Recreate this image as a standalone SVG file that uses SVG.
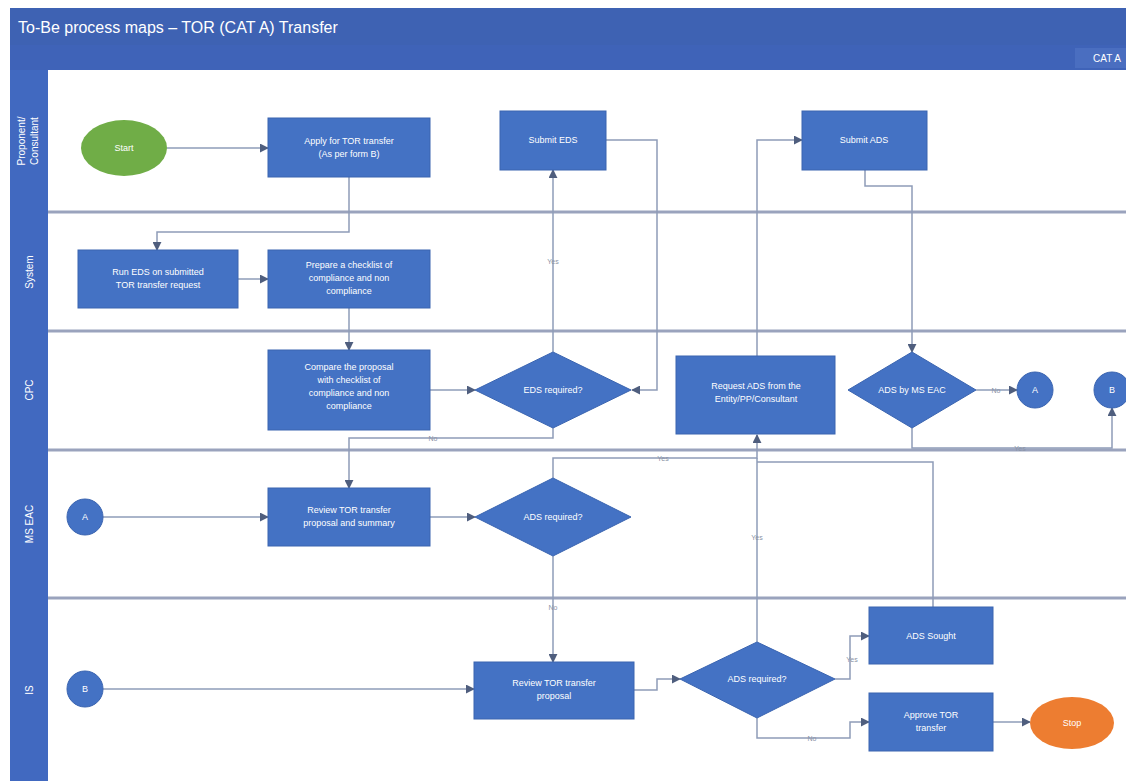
<svg xmlns="http://www.w3.org/2000/svg" width="1126" height="781" viewBox="0 0 1126 781">
  <style>
    .title { font-family: "Liberation Sans", "Open Sans", sans-serif; font-size: 16px; fill: #ffffff; }
    .lane-label { font-family: "Liberation Sans", "Open Sans", sans-serif; font-size: 10px; fill: #ffffff; text-anchor: middle; }
    .box { fill: #4472C4; stroke: #3A64B0; stroke-width: 1; }
    .term-start { fill: #70AD47; }
    .term-stop { fill: #ED7D31; }
    .ref { fill: #4472C4; stroke: #3A64B0; stroke-width: 1; }
    .node-text { font-family: "Liberation Sans", "Open Sans", sans-serif; font-size: 9px; fill: #ffffff; text-anchor: middle; }
    .sep { stroke: #9AA3BD; stroke-width: 3; }
    .conn { fill: none; stroke: #8E9CB8; stroke-width: 1.5; }
    .conn-label { font-family: "Liberation Sans", "Open Sans", sans-serif; font-size: 7px; fill: #8A93A6; text-anchor: middle; }
  </style>
  <defs>
    <marker id="arrow" viewBox="0 0 10 10" refX="9" refY="5" markerWidth="6" markerHeight="6" orient="auto-start-reverse">
      <path d="M0,0 L10,5 L0,10 z" fill="#4F5E7E"/>
    </marker>
  </defs>

  <rect x="0" y="0" width="1126" height="781" fill="#ffffff"/>

  <!-- header band and swimlane frame -->
  <g id="header">
    <rect x="10" y="8" width="1116" height="62" fill="#3E62B3"/>
    <rect x="10" y="45" width="1116" height="25" fill="#3F63B8"/>
    <text class="title" x="18" y="33">To-Be process maps – TOR (CAT A) Transfer</text>
    <rect x="1075" y="48" width="51" height="20" fill="#4A6EC0"/>
    <text class="lane-label" x="1093" y="62" text-anchor="start" style="text-anchor:start">CAT A</text>
  </g>

  <g id="lanes">
    <rect x="10" y="70" width="38" height="711" fill="#4169C0"/>
    <rect x="48" y="70" width="1078" height="711" fill="#ffffff"/>
    <line class="sep" x1="48" y1="212" x2="1126" y2="212"/>
    <line class="sep" x1="48" y1="331" x2="1126" y2="331"/>
    <line class="sep" x1="48" y1="450" x2="1126" y2="450"/>
    <line class="sep" x1="48" y1="598" x2="1126" y2="598"/>
    <text class="lane-label" transform="translate(25,141) rotate(-90)">Proponent/</text>
    <text class="lane-label" transform="translate(38,141) rotate(-90)">Consultant</text>
    <text class="lane-label" transform="translate(33,272) rotate(-90)">System</text>
    <text class="lane-label" transform="translate(33,390) rotate(-90)">CPC</text>
    <text class="lane-label" transform="translate(33,524) rotate(-90)">MS EAC</text>
    <text class="lane-label" transform="translate(33,690) rotate(-90)">IS</text>
  </g>

  <!-- connectors -->
  <g id="connectors">
    <path class="conn" d="M167,148 H268" marker-end="url(#arrow)"/>
    <path class="conn" d="M349,177 V232 H157 V250" marker-end="url(#arrow)"/>
    <path class="conn" d="M238,279 H268" marker-end="url(#arrow)"/>
    <path class="conn" d="M349,308 V350" marker-end="url(#arrow)"/>
    <path class="conn" d="M430,390 H475" marker-end="url(#arrow)"/>
    <path class="conn" d="M553,352 V170" marker-end="url(#arrow)"/>
    <path class="conn" d="M606,140 H657 V390 H632" marker-end="url(#arrow)"/>
    <path class="conn" d="M553,428 V438 H349 V488" marker-end="url(#arrow)"/>
    <path class="conn" d="M103,517 H268" marker-end="url(#arrow)"/>
    <path class="conn" d="M430,517 H475" marker-end="url(#arrow)"/>
    <path class="conn" d="M553,556 V662" marker-end="url(#arrow)"/>
    <path class="conn" d="M553,478 V458 H757 V435" marker-end="url(#arrow)"/>
    <path class="conn" d="M757,642 V458"/>
    <path class="conn" d="M933,607 V462 H757"/>
    <path class="conn" d="M757,356 V140 H802" marker-end="url(#arrow)"/>
    <path class="conn" d="M865,170 V186 H912 V352" marker-end="url(#arrow)"/>
    <path class="conn" d="M976,390 H1017" marker-end="url(#arrow)"/>
    <path class="conn" d="M912,428 V448 H1112 V408" marker-end="url(#arrow)"/>
    <path class="conn" d="M103,689 H474" marker-end="url(#arrow)"/>
    <path class="conn" d="M634,690 H657 V679 H680" marker-end="url(#arrow)"/>
    <path class="conn" d="M835,679 H850 V636 H869" marker-end="url(#arrow)"/>
    <path class="conn" d="M757,718 V738 H850 V722 H869" marker-end="url(#arrow)"/>
    <path class="conn" d="M993,722 H1030" marker-end="url(#arrow)"/>

    <text class="conn-label" x="553" y="264">Yes</text>
    <text class="conn-label" x="433" y="441">No</text>
    <text class="conn-label" x="663" y="461">Yes</text>
    <text class="conn-label" x="553" y="610">No</text>
    <text class="conn-label" x="757" y="540">Yes</text>
    <text class="conn-label" x="996" y="393">No</text>
    <text class="conn-label" x="1020" y="451">Yes</text>
    <text class="conn-label" x="852" y="662">Yes</text>
    <text class="conn-label" x="812" y="741">No</text>
  </g>

  <!-- Proponent / Consultant lane -->
  <g id="start">
    <ellipse class="term-start" cx="124" cy="148" rx="43" ry="28"/>
    <text class="node-text" x="124" y="151">Start</text>
  </g>
  <g id="apply-tor">
    <rect class="box" x="268" y="118" width="162" height="59"/>
    <text class="node-text" x="349" y="144">Apply for TOR transfer</text>
    <text class="node-text" x="349" y="157">(As per form B)</text>
  </g>
  <g id="submit-eds">
    <rect class="box" x="500" y="111" width="106" height="59"/>
    <text class="node-text" x="553" y="143">Submit EDS</text>
  </g>
  <g id="submit-ads">
    <rect class="box" x="802" y="111" width="125" height="59"/>
    <text class="node-text" x="864" y="143">Submit ADS</text>
  </g>

  <!-- System lane -->
  <g id="run-eds">
    <rect class="box" x="78" y="250" width="160" height="58"/>
    <text class="node-text" x="158" y="275">Run EDS on submitted</text>
    <text class="node-text" x="158" y="288">TOR transfer request</text>
  </g>
  <g id="prepare-checklist">
    <rect class="box" x="268" y="250" width="162" height="58"/>
    <text class="node-text" x="349" y="268">Prepare a checklist of</text>
    <text class="node-text" x="349" y="281">compliance and non</text>
    <text class="node-text" x="349" y="294">compliance</text>
  </g>

  <!-- CPC lane -->
  <g id="compare-proposal">
    <rect class="box" x="268" y="350" width="162" height="80"/>
    <text class="node-text" x="349" y="370">Compare the proposal</text>
    <text class="node-text" x="349" y="383">with checklist of</text>
    <text class="node-text" x="349" y="396">compliance and non</text>
    <text class="node-text" x="349" y="409">compliance</text>
  </g>
  <g id="eds-required">
    <polygon class="box" points="553,352 631,390 553,428 475,390"/>
    <text class="node-text" x="553" y="393">EDS required?</text>
  </g>
  <g id="request-ads">
    <rect class="box" x="676" y="356" width="159" height="78"/>
    <text class="node-text" x="756" y="389">Request ADS from the</text>
    <text class="node-text" x="756" y="402">Entity/PP/Consultant</text>
  </g>
  <g id="ads-by-ms-eac">
    <polygon class="box" points="912,352 976,390 912,428 848,390"/>
    <text class="node-text" x="912" y="393">ADS by MS EAC</text>
  </g>
  <g id="ref-a-out">
    <circle class="ref" cx="1035" cy="390" r="18"/>
    <text class="node-text" x="1035" y="393">A</text>
  </g>
  <g id="ref-b-out">
    <circle class="ref" cx="1112" cy="390" r="18"/>
    <text class="node-text" x="1112" y="393">B</text>
  </g>

  <!-- MS EAC lane -->
  <g id="ref-a-in">
    <circle class="ref" cx="85" cy="517" r="18"/>
    <text class="node-text" x="85" y="520">A</text>
  </g>
  <g id="review-summary">
    <rect class="box" x="268" y="488" width="162" height="58"/>
    <text class="node-text" x="349" y="513">Review TOR transfer</text>
    <text class="node-text" x="349" y="526">proposal and summary</text>
  </g>
  <g id="ads-required-eac">
    <polygon class="box" points="553,478 631,517 553,556 475,517"/>
    <text class="node-text" x="553" y="520">ADS required?</text>
  </g>

  <!-- IS lane -->
  <g id="ref-b-in">
    <circle class="ref" cx="85" cy="689" r="18"/>
    <text class="node-text" x="85" y="692">B</text>
  </g>
  <g id="review-proposal">
    <rect class="box" x="474" y="662" width="160" height="57"/>
    <text class="node-text" x="554" y="686">Review TOR transfer</text>
    <text class="node-text" x="554" y="699">proposal</text>
  </g>
  <g id="ads-required-is">
    <polygon class="box" points="757,642 835,679 757,718 680,679"/>
    <text class="node-text" x="757" y="682">ADS required?</text>
  </g>
  <g id="ads-sought">
    <rect class="box" x="869" y="607" width="124" height="57"/>
    <text class="node-text" x="931" y="639">ADS Sought</text>
  </g>
  <g id="approve-tor">
    <rect class="box" x="869" y="693" width="124" height="58"/>
    <text class="node-text" x="931" y="718">Approve TOR</text>
    <text class="node-text" x="931" y="731">transfer</text>
  </g>
  <g id="stop">
    <ellipse class="term-stop" cx="1072" cy="723" rx="42" ry="26"/>
    <text class="node-text" x="1072" y="726">Stop</text>
  </g>
</svg>
